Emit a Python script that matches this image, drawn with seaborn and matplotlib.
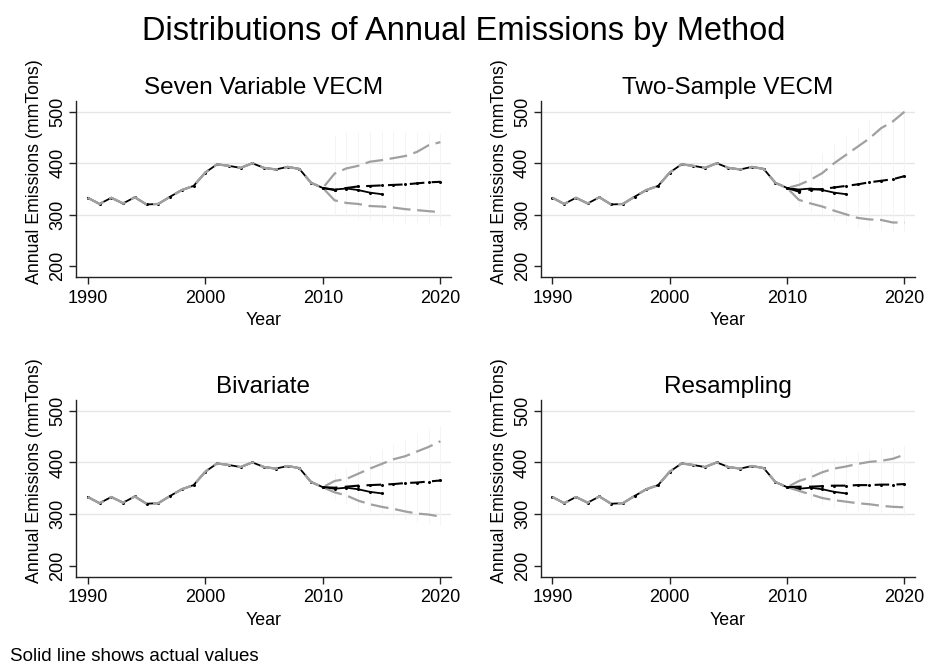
import numpy as np
import pandas as pd
import matplotlib
matplotlib.use("Agg")
import matplotlib.pyplot as plt
import seaborn as sns

# ---------------- data ----------------
hist_years = list(range(1990, 2011))
hist_values = [333, 321, 333, 322, 334, 320, 321, 335, 348, 356, 382, 398, 395,
               391, 400, 391, 388, 393, 389, 362, 352]
actual_fc_years = [2011, 2012, 2013, 2014, 2015]
actual_fc_values = [349, 351, 348, 343, 340]

fc_years = list(range(2011, 2021))

methods = ["Seven Variable VECM", "Two-Sample VECM", "Bivariate", "Resampling"]

median_7v = [348, 352, 355, 356, 357, 358, 359, 361, 363, 364]
upper_7v = [380, 390, 395, 403, 406, 410, 414, 422, 435, 441]
lower_7v = [328, 323, 321, 317, 316, 314, 311, 309, 307, 305]
whi_hi_7v = [455, 460, 461, 462, 462, 462, 461, 460, 459, 458]
whi_lo_7v = [300, 295, 292, 290, 288, 286, 285, 284, 282, 280]

median_2s = [345, 349, 350, 353, 356, 359, 363, 366, 369, 375]
upper_2s = [358, 368, 381, 400, 416, 432, 448, 468, 481, 500]
lower_2s = [329, 322, 316, 308, 301, 294, 291, 290, 285, 285]
whi_hi_2s = [385, 400, 420, 440, 455, 470, 485, 500, 505, 505]
whi_lo_2s = [315, 305, 295, 288, 282, 276, 272, 270, 268, 268]

median_bv = [351, 353, 355, 356, 357, 358, 360, 361, 363, 365]
upper_bv = [364, 368, 378, 388, 397, 406, 412, 421, 430, 441]
lower_bv = [342, 336, 326, 319, 314, 310, 305, 301, 299, 295]
whi_hi_bv = [380, 390, 405, 415, 425, 435, 445, 455, 465, 470]
whi_lo_bv = [330, 320, 310, 305, 298, 292, 288, 284, 280, 278]

median_rs = [353, 353, 354, 355, 355, 356, 356, 357, 357, 358]
upper_rs = [364, 371, 381, 388, 392, 397, 401, 403, 407, 415]
lower_rs = [345, 338, 331, 327, 324, 321, 319, 316, 314, 313]
whi_hi_rs = [380, 390, 400, 410, 415, 420, 424, 428, 430, 432]
whi_lo_rs = [335, 325, 318, 312, 308, 305, 302, 300, 298, 296]

panel_data = {
    "Seven Variable VECM": (median_7v, upper_7v, lower_7v, whi_hi_7v, whi_lo_7v),
    "Two-Sample VECM": (median_2s, upper_2s, lower_2s, whi_hi_2s, whi_lo_2s),
    "Bivariate": (median_bv, upper_bv, lower_bv, whi_hi_bv, whi_lo_bv),
    "Resampling": (median_rs, upper_rs, lower_rs, whi_hi_rs, whi_lo_rs),
}

y_ticks = [200, 300, 400, 500]
x_ticks = [1990, 2000, 2010, 2020]

# ---------------- style ----------------
sns.set_theme(style="white")
plt.rcParams["font.family"] = ["Liberation Sans", "DejaVu Sans"]
plt.rcParams["text.color"] = "black"
plt.rcParams["axes.labelcolor"] = "black"
plt.rcParams["xtick.color"] = "black"
plt.rcParams["ytick.color"] = "black"

fig = plt.figure(figsize=(9.27, 6.71), dpi=100)

positions = {
    "Seven Variable VECM": [0.082, 0.5867, 0.4045, 0.2632],
    "Two-Sample VECM": [0.5833, 0.5867, 0.4038, 0.2632],
    "Bivariate": [0.082, 0.1405, 0.4045, 0.2638],
    "Resampling": [0.5833, 0.1405, 0.4038, 0.2638],
}

GRAY = "#a0a0a0"
SPINE = "#222222"

for m in methods:
    med, up, lo, whi_hi, whi_lo = panel_data[m]
    ax = fig.add_axes(positions[m])

    # light gridlines
    for g in [300, 400, 500]:
        ax.axhline(g, color="#e6e6e6", lw=1.0, zorder=0)

    # faint whiskers
    ax.vlines(fc_years, whi_lo, whi_hi, color="#f3f3f3", lw=0.6, zorder=1)

    # actual values (solid black)
    act_df = pd.DataFrame({"Year": hist_years + actual_fc_years,
                           "Val": hist_values + actual_fc_values})
    sns.lineplot(data=act_df, x="Year", y="Val", ax=ax, color="black", lw=1.3,
                 marker="o", markersize=2.2, markeredgewidth=0, zorder=3)

    # bounds (gray dashed), continue from history
    up_df = pd.DataFrame({"Year": hist_years + fc_years, "Val": hist_values + up})
    lo_df = pd.DataFrame({"Year": hist_years + fc_years, "Val": hist_values + lo})
    for d in (up_df, lo_df):
        sns.lineplot(data=d, x="Year", y="Val", ax=ax, color=GRAY, lw=1.6,
                     dashes=False, zorder=4)
        ax.lines[-1].set_dashes([8, 3])

    # median (black dashed)
    med_df = pd.DataFrame({"Year": [2010] + fc_years, "Val": [hist_values[-1]] + med})
    sns.lineplot(data=med_df, x="Year", y="Val", ax=ax, color="black", lw=1.5,
                 marker="o", markersize=2.2, markeredgewidth=0, zorder=5)
    ax.lines[-1].set_dashes([7, 3.5])

    ax.set_xlim(1989.0, 2020.9)
    ax.set_ylim(178.6, 521.4)
    ax.set_xticks(x_ticks)
    ax.set_yticks(y_ticks)
    ax.set_xticklabels([str(t) for t in x_ticks], fontsize=13)
    ax.set_yticklabels([str(t) for t in y_ticks], fontsize=13, rotation=90,
                       va="center")
    ax.tick_params(axis="both", which="both", direction="out", length=5,
                   width=1, color=SPINE, bottom=True, left=True)
    ax.tick_params(axis="x", pad=4)
    ax.tick_params(axis="y", pad=2)
    for s in ["top", "right"]:
        ax.spines[s].set_visible(False)
    for s in ["left", "bottom"]:
        ax.spines[s].set_color(SPINE)
        ax.spines[s].set_linewidth(1.0)
    ax.set_xlabel("Year", fontsize=12.8, labelpad=4)
    ax.set_ylabel("Annual Emissions (mmTons)", fontsize=12.8, labelpad=1)
    ax.yaxis.set_label_coords(-0.088, 0.60)
    ax.set_title(m, fontsize=17.5, pad=5)
    ax.set_facecolor("white")

fig.text(0.5, 0.953, "Distributions of Annual Emissions by Method",
         ha="center", va="center", fontsize=23.5)
fig.text(0.011, 0.022, "Solid line shows actual values", ha="left",
         va="center", fontsize=13.5)

fig.savefig("out.png", dpi=100, facecolor="white")
